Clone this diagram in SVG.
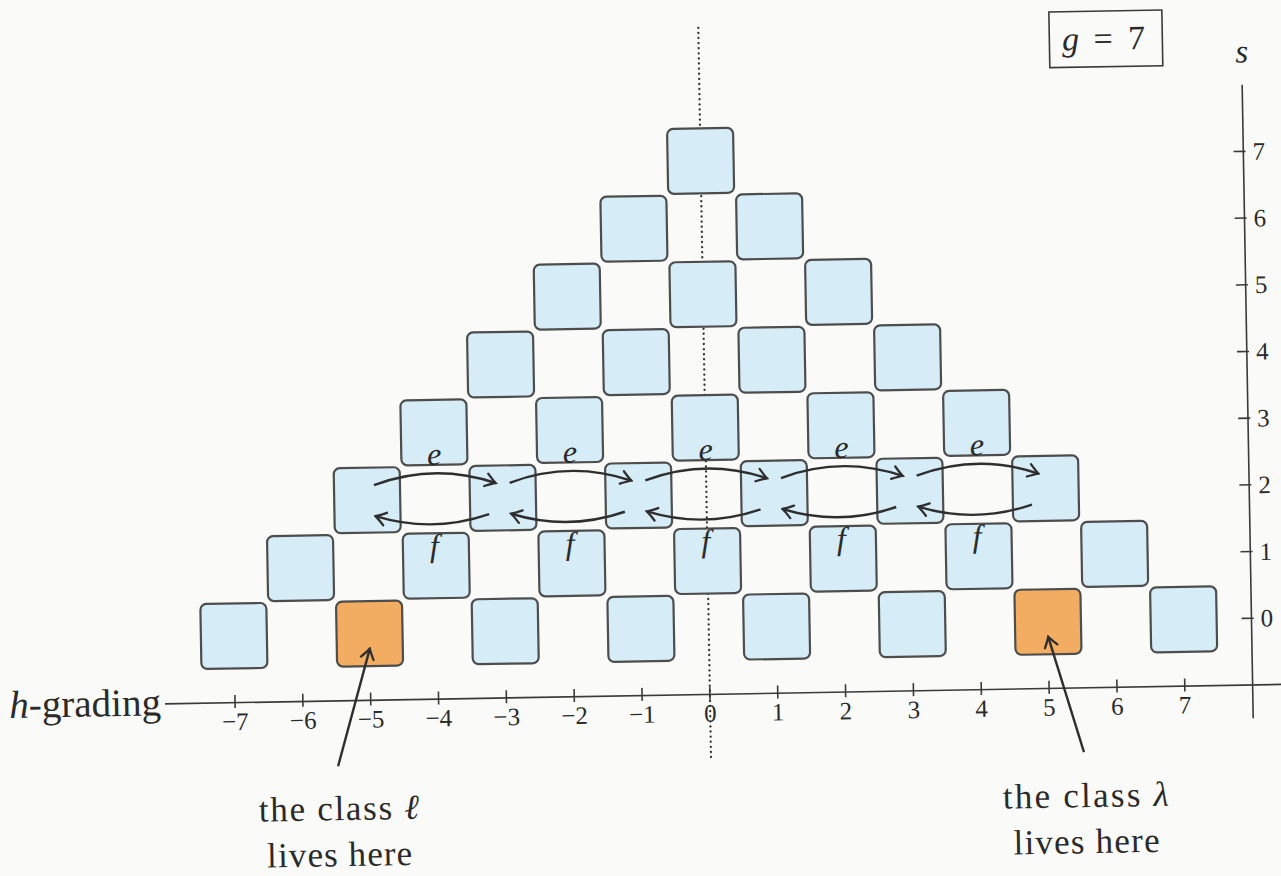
<svg xmlns="http://www.w3.org/2000/svg" width="1281" height="876" viewBox="0 0 1281 876">
<style>
.sq{fill:#d6ecf6;stroke:#4d4d4d;stroke-width:2.2}
.or{fill:#f2ad63}
.ax{stroke:#3a3a3a;stroke-width:1.6;fill:none}
.dot{stroke:#333;stroke-width:2.3;stroke-dasharray:0.1 5;stroke-linecap:round;fill:none}
.arr{stroke:#2e2e2e;stroke-width:2.4;fill:none;marker-end:url(#to)}
.t{font-family:"Liberation Serif","Times New Roman",serif;fill:#2a2a2a}
.m{font-style:italic}
.tk{font-size:25px;text-anchor:middle}
.sl{font-size:25px;text-anchor:start}
</style>
<defs>
<marker id="to" markerUnits="userSpaceOnUse" markerWidth="14" markerHeight="20" viewBox="-12 -10 14 20" refX="0" refY="0" orient="auto">
<path d="M -10,-6.5 Q -3,-1.5 0,0 Q -3,1.5 -10,6.5" fill="none" stroke="#2e2e2e" stroke-width="2.3" stroke-linecap="round"/>
</marker>
</defs>
<rect x="0" y="0" width="1281" height="876" fill="#fafaf8"/>
<g transform="translate(708.75,627.7) rotate(-1)">
<g id="axes">
<line class="ax" x1="-545" y1="66.7" x2="600" y2="66.7"/>
<line class="ax" x1="542.8" y1="-533.6" x2="542.8" y2="100"/>
<path class="ax" d="M-474.95,59V72 M-407.1,59V72 M-339.25,59V72 M-271.4,59V72 M-203.55,59V72 M-135.7,59V72 M-67.85,59V72 M0,59V72 M67.85,59V72 M135.7,59V72 M203.55,59V72 M271.4,59V72 M339.25,59V72 M407.1,59V72 M474.95,59V72"/>
<path class="ax" d="M533,0H545 M533,-66.7H545 M533,-133.4H545 M533,-200.1H545 M533,-266.8H545 M533,-333.5H545 M533,-400.2H545 M533,-466.9H545"/>
<g class="t tk">
<text x="-474.95" y="94">−7</text><text x="-407.1" y="94">−6</text><text x="-339.25" y="94">−5</text><text x="-271.4" y="94">−4</text><text x="-203.55" y="94">−3</text><text x="-135.7" y="94">−2</text><text x="-67.85" y="94">−1</text><text x="0" y="94">0</text><text x="67.85" y="94">1</text><text x="135.7" y="94">2</text><text x="203.55" y="94">3</text><text x="271.4" y="94">4</text><text x="339.25" y="94">5</text><text x="407.1" y="94">6</text><text x="474.95" y="94">7</text>
</g>
<g class="t sl">
<text x="552" y="8.5">0</text><text x="552" y="-58.2">1</text><text x="552" y="-124.9">2</text><text x="552" y="-191.6">3</text><text x="552" y="-258.3">4</text><text x="552" y="-325">5</text><text x="552" y="-391.7">6</text><text x="552" y="-458.4">7</text>
</g>
<text class="t" x="-549" y="78" font-size="39" text-anchor="end"><tspan class="m">h</tspan>-grading</text>
<text class="t m" x="543" y="-556" font-size="33" text-anchor="middle">s</text>
</g>
<g id="label-g">
<rect x="350.8" y="-609.7" width="113" height="55.7" fill="none" stroke="#3a3a3a" stroke-width="1.6"/>
<text class="t" y="-571" font-size="34" text-anchor="middle"><tspan class="m" x="372">g</tspan><tspan x="404.5">=</tspan><tspan x="438">7</tspan></text>
</g>
<line class="dot" x1="0" y1="-600" x2="0" y2="131"/>
<g id="nodes">
<g id="n_m7_0" transform="translate(-474.95,0)"><rect class="sq" x="-33" y="-32.5" width="66" height="65" rx="6"/></g>
<g id="n_m5_0" transform="translate(-339.25,0)"><rect class="sq or" x="-33" y="-32.5" width="66" height="65" rx="6"/></g>
<g id="n_m3_0" transform="translate(-203.55,0)"><rect class="sq" x="-33" y="-32.5" width="66" height="65" rx="6"/></g>
<g id="n_m1_0" transform="translate(-67.85,0)"><rect class="sq" x="-33" y="-32.5" width="66" height="65" rx="6"/></g>
<g id="n_1_0" transform="translate(67.85,0)"><rect class="sq" x="-33" y="-32.5" width="66" height="65" rx="6"/></g>
<g id="n_3_0" transform="translate(203.55,0)"><rect class="sq" x="-33" y="-32.5" width="66" height="65" rx="6"/></g>
<g id="n_5_0" transform="translate(339.25,0)"><rect class="sq or" x="-33" y="-32.5" width="66" height="65" rx="6"/></g>
<g id="n_7_0" transform="translate(474.95,0)"><rect class="sq" x="-33" y="-32.5" width="66" height="65" rx="6"/></g>
<g id="n_m6_1" transform="translate(-407.1,-66.7)"><rect class="sq" x="-33" y="-32.5" width="66" height="65" rx="6"/></g>
<g id="n_m4_1" transform="translate(-271.4,-66.7)"><rect class="sq" x="-33" y="-32.5" width="66" height="65" rx="6"/></g>
<g id="n_m2_1" transform="translate(-135.7,-66.7)"><rect class="sq" x="-33" y="-32.5" width="66" height="65" rx="6"/></g>
<g id="n_0_1" transform="translate(0,-66.7)"><rect class="sq" x="-33" y="-32.5" width="66" height="65" rx="6"/></g>
<g id="n_2_1" transform="translate(135.7,-66.7)"><rect class="sq" x="-33" y="-32.5" width="66" height="65" rx="6"/></g>
<g id="n_4_1" transform="translate(271.4,-66.7)"><rect class="sq" x="-33" y="-32.5" width="66" height="65" rx="6"/></g>
<g id="n_6_1" transform="translate(407.1,-66.7)"><rect class="sq" x="-33" y="-32.5" width="66" height="65" rx="6"/></g>
<g id="n_m5_2" transform="translate(-339.25,-133.4)"><rect class="sq" x="-33" y="-32.5" width="66" height="65" rx="6"/></g>
<g id="n_m3_2" transform="translate(-203.55,-133.4)"><rect class="sq" x="-33" y="-32.5" width="66" height="65" rx="6"/></g>
<g id="n_m1_2" transform="translate(-67.85,-133.4)"><rect class="sq" x="-33" y="-32.5" width="66" height="65" rx="6"/></g>
<g id="n_1_2" transform="translate(67.85,-133.4)"><rect class="sq" x="-33" y="-32.5" width="66" height="65" rx="6"/></g>
<g id="n_3_2" transform="translate(203.55,-133.4)"><rect class="sq" x="-33" y="-32.5" width="66" height="65" rx="6"/></g>
<g id="n_5_2" transform="translate(339.25,-133.4)"><rect class="sq" x="-33" y="-32.5" width="66" height="65" rx="6"/></g>
<g id="n_m4_3" transform="translate(-271.4,-200.1)"><rect class="sq" x="-33" y="-32.5" width="66" height="65" rx="6"/></g>
<g id="n_m2_3" transform="translate(-135.7,-200.1)"><rect class="sq" x="-33" y="-32.5" width="66" height="65" rx="6"/></g>
<g id="n_0_3" transform="translate(0,-200.1)"><rect class="sq" x="-33" y="-32.5" width="66" height="65" rx="6"/></g>
<g id="n_2_3" transform="translate(135.7,-200.1)"><rect class="sq" x="-33" y="-32.5" width="66" height="65" rx="6"/></g>
<g id="n_4_3" transform="translate(271.4,-200.1)"><rect class="sq" x="-33" y="-32.5" width="66" height="65" rx="6"/></g>
<g id="n_m3_4" transform="translate(-203.55,-266.8)"><rect class="sq" x="-33" y="-32.5" width="66" height="65" rx="6"/></g>
<g id="n_m1_4" transform="translate(-67.85,-266.8)"><rect class="sq" x="-33" y="-32.5" width="66" height="65" rx="6"/></g>
<g id="n_1_4" transform="translate(67.85,-266.8)"><rect class="sq" x="-33" y="-32.5" width="66" height="65" rx="6"/></g>
<g id="n_3_4" transform="translate(203.55,-266.8)"><rect class="sq" x="-33" y="-32.5" width="66" height="65" rx="6"/></g>
<g id="n_m2_5" transform="translate(-135.7,-333.5)"><rect class="sq" x="-33" y="-32.5" width="66" height="65" rx="6"/></g>
<g id="n_0_5" transform="translate(0,-333.5)"><rect class="sq" x="-33" y="-32.5" width="66" height="65" rx="6"/></g>
<g id="n_2_5" transform="translate(135.7,-333.5)"><rect class="sq" x="-33" y="-32.5" width="66" height="65" rx="6"/></g>
<g id="n_m1_6" transform="translate(-67.85,-400.2)"><rect class="sq" x="-33" y="-32.5" width="66" height="65" rx="6"/></g>
<g id="n_1_6" transform="translate(67.85,-400.2)"><rect class="sq" x="-33" y="-32.5" width="66" height="65" rx="6"/></g>
<g id="n_0_7" transform="translate(0,-466.9)"><rect class="sq" x="-33" y="-32.5" width="66" height="65" rx="6"/></g>
</g>
<g id="connectors">
<path class="arr" d="M-332.25,-148.4 Q-271.4,-170 -210.55,-148.4"/>
<path class="arr" d="M-196.55,-148.4 Q-135.7,-170 -74.85,-148.4"/>
<path class="arr" d="M-60.85,-148.4 Q0,-170 60.85,-148.4"/>
<path class="arr" d="M74.85,-148.4 Q135.7,-170 196.55,-148.4"/>
<path class="arr" d="M210.55,-148.4 Q271.4,-170 332.25,-148.4"/>
<path class="arr" d="M-217.55,-117.4 Q-274.4,-99 -331.25,-117.4"/>
<path class="arr" d="M-81.85,-117.4 Q-138.7,-99 -195.55,-117.4"/>
<path class="arr" d="M53.85,-117.4 Q-3,-99 -59.85,-117.4"/>
<path class="arr" d="M189.55,-117.4 Q132.7,-99 75.85,-117.4"/>
<path class="arr" d="M325.25,-117.4 Q268.4,-99 211.55,-117.4"/>
<path class="arr" d="M-373,132 L-339.25,15"/>
<path class="arr" d="M373,131 L339.25,15"/>
</g>
<g id="edge-labels" class="t m" font-size="32" text-anchor="middle">
<text x="-271.4" y="-167.5">e</text><text x="-135.7" y="-167.5">e</text><text x="0" y="-167.5">e</text><text x="135.7" y="-167.5">e</text><text x="271.4" y="-167.5">e</text>
<text x="-273" y="-76">f</text><text x="-137.3" y="-76">f</text><text x="-1.6" y="-76">f</text><text x="134.1" y="-76">f</text><text x="269.8" y="-76">f</text>
</g>
<g id="label-l" class="t" font-size="35" text-anchor="middle">
<text x="-373" y="186" textLength="160">the class <tspan class="m">ℓ</tspan></text>
<text x="-373" y="232" textLength="145">lives here</text>
</g>
<g id="label-lambda" class="t" font-size="35" text-anchor="middle">
<text x="374" y="186" textLength="166">the class <tspan class="m">λ</tspan></text>
<text x="374" y="232" textLength="146">lives here</text>
</g>
</g>
</svg>
